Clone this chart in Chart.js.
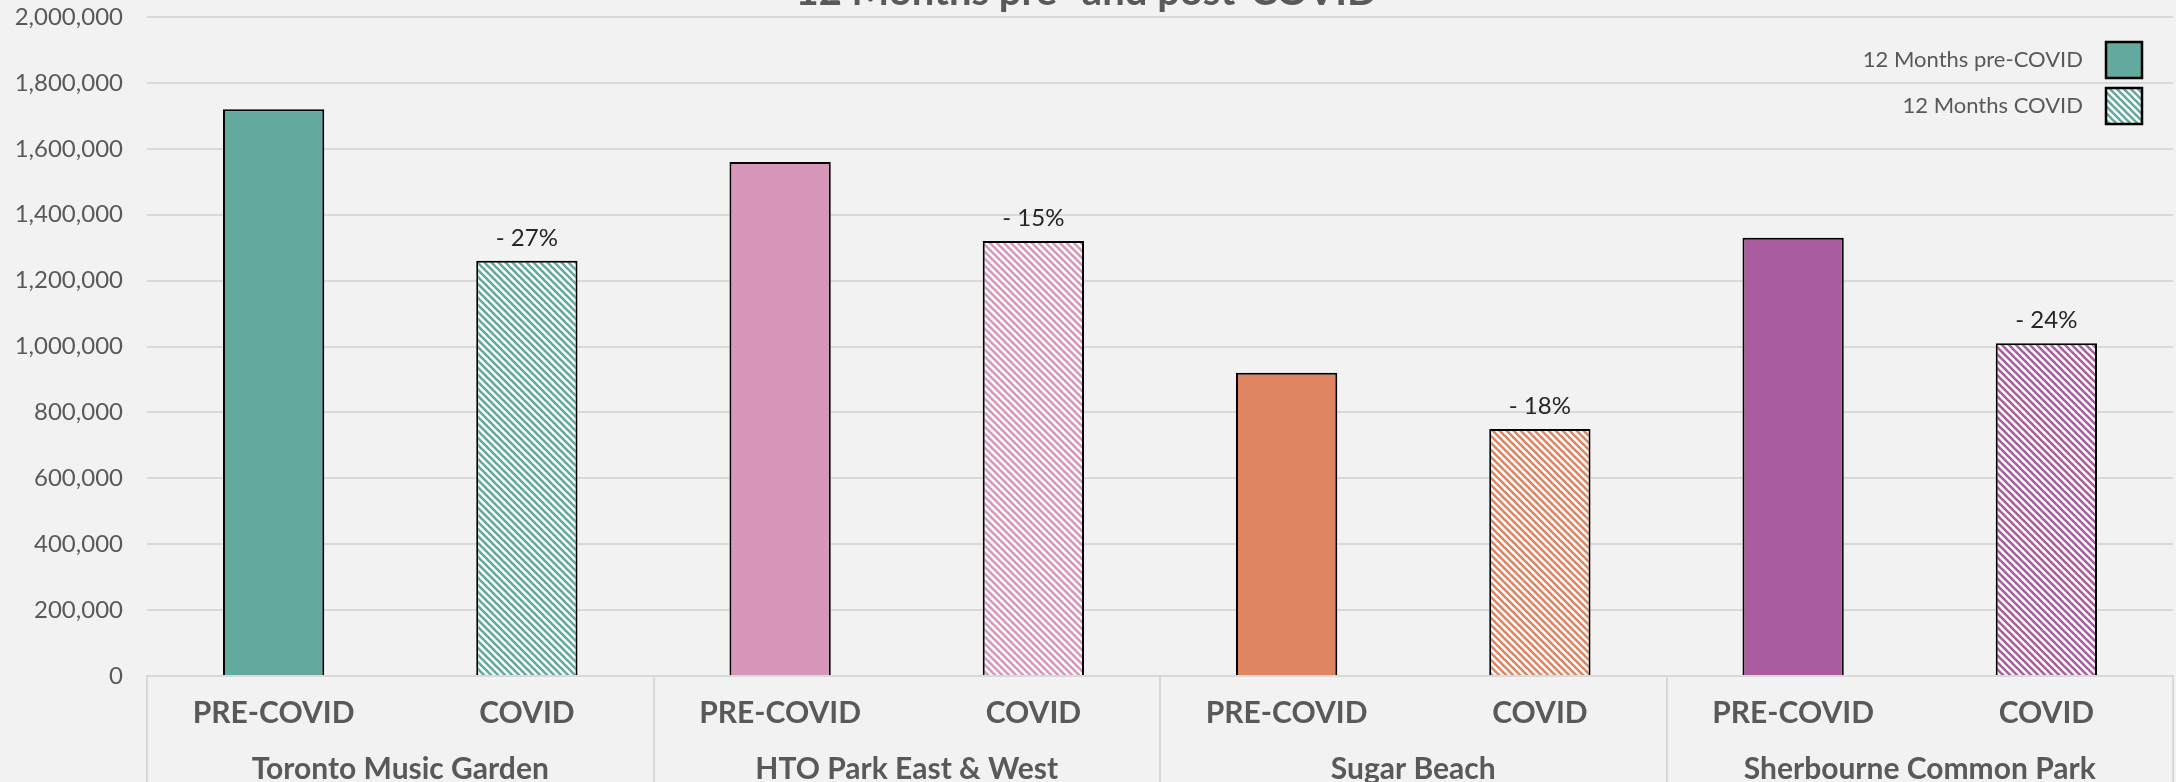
<!DOCTYPE html>
<html>
<head>
<meta charset="utf-8">
<title>12 Months pre- and post-COVID</title>
<script src="https://cdn.jsdelivr.net/npm/chart.js@4"></script>
<style>
    html, body {
        margin: 0;
        padding: 0;
        background: #F2F2F2;
        overflow: hidden;
        width: 2176px;
        height: 782px;
    }
    #wrap {
        position: absolute;
        left: 0;
        top: -40px;
        width: 2176px;
        height: 828px;
    }
</style>
</head>
<body>
<div id="wrap"><canvas id="myChart"></canvas></div>
<script>
const parks = ["Toronto Music Garden", "HTO Park East & West", "Sugar Beach", "Sherbourne Common Park"];
const periods = ["PRE-COVID", "COVID"];
const seriesNames = ["12 Months pre-COVID", "12 Months COVID"];
const preCovid = [1720000, 1560000, 920000, 1330000];
const covid = [1260000, 1320000, 750000, 1010000];
const changeLabels = ["- 27%", "- 15%", "- 18%", "- 24%"];
const parkColors = ["#62A99E", "#D896BA", "#DE8461", "#A95D9E"];

const textGrey = "#595959";
const gridGrey = "#D9D9D9";

const canvas = document.getElementById("myChart");
const ctx = canvas.getContext("2d");

// diagonal hatch like Excel's wide downward diagonal
function hatch(color) {
    const size = 7;
    const tile = document.createElement("canvas");
    tile.width = size;
    tile.height = size;
    const t = tile.getContext("2d");
    t.fillStyle = "#ffffff";
    t.fillRect(0, 0, size, size);
    t.strokeStyle = color;
    t.lineWidth = 2.6;
    [-size, 0, size].forEach(k => {
        t.beginPath();
        t.moveTo(k - 1, -1);
        t.lineTo(k + size + 1, size + 1);
        t.stroke();
    });
    return ctx.createPattern(tile, "repeat");
}

const xLabels = parks.flatMap(() => periods);
const preData = parks.flatMap((p, i) => [preCovid[i], null]);
const covidData = parks.flatMap((p, i) => [null, covid[i]]);
const preFill = parks.flatMap((p, i) => [parkColors[i], parkColors[i]]);
const covidFill = parks.flatMap((p, i) => [hatch(parkColors[i]), hatch(parkColors[i])]);

const groupLines = {
    id: "groupLines",
    afterDraw(chart) {
        const x2 = chart.scales.x2;
        const c = chart.ctx;
        c.save();
        c.strokeStyle = gridGrey;
        c.lineWidth = 2;
        for (let i = 0; i <= parks.length; i++) {
            const x = Math.round(x2.getPixelForValue(i - 0.5));
            c.beginPath();
            c.moveTo(x, chart.chartArea.bottom);
            c.lineTo(x, chart.height);
            c.stroke();
        }
        c.restore();
    }
};

const changeText = {
    id: "changeText",
    afterDatasetsDraw(chart) {
        const meta = chart.getDatasetMeta(1);
        const c = chart.ctx;
        c.save();
        c.font = "24px Lato";
        c.fillStyle = "#262626";
        c.textAlign = "center";
        c.textBaseline = "alphabetic";
        meta.data.forEach((bar, i) => {
            if (chart.data.datasets[1].data[i] === null) return;
            c.fillText(changeLabels[Math.floor(i / 2)], bar.x, bar.y - 15);
        });
        c.restore();
    }
};

const sideLegend = {
    id: "sideLegend",
    afterDraw(chart) {
        const c = chart.ctx;
        const area = chart.chartArea;
        const box = 36;
        const right = area.right - 31;
        chart.data.datasets.forEach((ds, i) => {
            const top = area.top + 25 + i * 46;
            c.save();
            c.fillStyle = i === 0 ? preFill[0] : covidFill[1];
            c.fillRect(right - box, top, box, box);
            c.lineWidth = 2.5;
            c.strokeStyle = "#000000";
            c.strokeRect(right - box, top, box, box);
            c.font = "22px Lato";
            c.fillStyle = textGrey;
            c.textAlign = "right";
            c.textBaseline = "middle";
            c.fillText(ds.label, right - box - 23, top + box / 2);
            c.restore();
        });
    }
};

new Chart(ctx, {
    type: "bar",
    data: {
        labels: xLabels,
        datasets: [
            {
                label: seriesNames[0],
                data: preData,
                backgroundColor: preFill,
                borderColor: "#000000",
                borderWidth: 2,
                xAxisID: "x"
            },
            {
                label: seriesNames[1],
                data: covidData,
                backgroundColor: covidFill,
                borderColor: "#000000",
                borderWidth: 2,
                xAxisID: "x"
            }
        ]
    },
    options: {
        responsive: true,
        maintainAspectRatio: false,
        animation: false,
        devicePixelRatio: 1,
        skipNull: true,
        categoryPercentage: 1,
        barPercentage: 0.4,
        layout: {
            padding: { left: 0, right: 3, top: 0, bottom: 0 }
        },
        plugins: {
            legend: { display: false },
            tooltip: { enabled: false },
            title: {
                display: true,
                text: "12 Months pre- and post-COVID",
                color: textGrey,
                font: { family: "Lato", size: 40, weight: "bold" },
                padding: { top: 8, bottom: 1 }
            }
        },
        scales: {
            x: {
                position: "bottom",
                weight: 0,
                grid: { display: false },
                border: { display: true, color: gridGrey, width: 2 },
                ticks: {
                    color: textGrey,
                    font: { family: "Lato", size: 30, weight: "bold" },
                    padding: 11,
                    autoSkip: false,
                    maxRotation: 0
                }
            },
            x2: {
                type: "category",
                labels: parks,
                position: "bottom",
                weight: 1,
                offset: true,
                grid: { display: false },
                border: { display: false },
                ticks: {
                    color: textGrey,
                    font: { family: "Lato", size: 30, weight: "bold" },
                    padding: 1,
                    autoSkip: false,
                    maxRotation: 0
                }
            },
            y: {
                min: 0,
                max: 2000000,
                afterFit(scale) {
                    scale.width = 147;
                },
                grid: { color: gridGrey, lineWidth: 2, drawTicks: false },
                border: { display: false },
                ticks: {
                    stepSize: 200000,
                    color: textGrey,
                    padding: 24,
                    font: { family: "Lato", size: 24 },
                    callback: value => value.toLocaleString("en-US")
                }
            }
        }
    },
    plugins: [groupLines, changeText, sideLegend]
});
</script>
</body>
</html>
